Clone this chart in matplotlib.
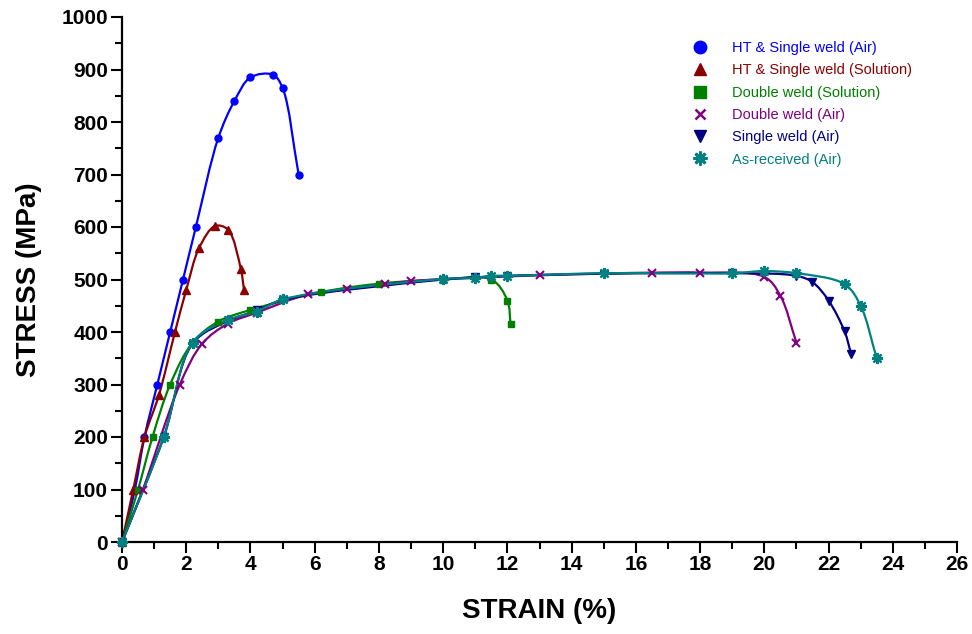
import numpy as np
import matplotlib
matplotlib.use("Agg")
import matplotlib.pyplot as plt
from matplotlib.path import Path
from matplotlib.patches import PathPatch
from matplotlib.lines import Line2D
from matplotlib.ticker import MultipleLocator

plt.rcParams['font.family'] = ['Liberation Sans', 'DejaVu Sans']

# ---------------- data ----------------
labels = ["HT & Single weld (Air)", "HT & Single weld (Solution)", "Double weld (Solution)",
          "Double weld (Air)", "Single weld (Air)", "As-received (Air)"]

ht_air_x = [0, 0.4, 0.7, 1.1, 1.5, 1.9, 2.3, 3.0, 3.5, 4.0, 4.7, 5.0, 5.5]
ht_air_y = [0, 100, 200, 300, 400, 500, 600, 770, 840, 885, 890, 865, 700]

ht_sol_x = [0, 0.35, 0.7, 1.15, 1.65, 2.0, 2.4, 2.9, 3.3, 3.7, 3.8]
ht_sol_y = [0, 100, 200, 280, 400, 480, 560, 602, 595, 520, 480]

dw_sol_x = [0, 0.5, 0.95, 1.5, 2.2, 3.0, 4.0, 6.2, 8.0, 10.0, 11.5, 12.0, 12.1]
dw_sol_y = [0, 100, 200, 300, 380, 420, 442, 476, 492, 500, 500, 460, 415]

dw_air_x = [0, 0.65, 1.8, 2.5, 3.3, 4.2, 5.8, 7.0, 8.2, 9.0, 13.0, 16.5, 18.0, 20.0, 20.5, 21.0]
dw_air_y = [0, 100, 300, 378, 416, 437, 472, 481, 491, 497, 508, 513, 513, 505, 469, 380]

sw_air_x = [0, 1.3, 2.2, 3.3, 4.2, 5.0, 10.0, 11.0, 12.0, 15.0, 19.0, 21.0, 21.5, 22.0, 22.5, 22.7]
sw_air_y = [0, 200, 378, 421, 441, 461, 500, 504, 507, 511, 512, 507, 495, 460, 401, 359]

asr_x = [0, 1.3, 2.2, 3.3, 4.2, 5.0, 10.0, 11.0, 11.5, 12.0, 15.0, 19.0, 20.0, 21.0, 22.5, 23.0, 23.5]
asr_y = [0, 200, 380, 423, 439, 462, 501, 503, 507, 507, 512, 512, 516, 512, 491, 450, 350]

x_ticks = list(range(0, 27, 2))
y_ticks = list(range(0, 1001, 100))

# ---------------- styles ----------------
colors = ['#0000FF', '#8B0000', '#008000', '#800080', '#000080', '#008080']
markers = ['o', '^', 's', 'x', 'v', (8, 2, 0)]
series = [(ht_air_x, ht_air_y), (ht_sol_x, ht_sol_y), (dw_sol_x, dw_sol_y),
          (dw_air_x, dw_air_y), (sw_air_x, sw_air_y), (asr_x, asr_y)]

XR, YR = 26.0, 1000.0
SX, SY = 835.0, 525.0


def smooth_path(xs, ys, alpha=0.5):
    """Centripetal Catmull-Rom curve through the data points, as cubic Bezier segments."""
    P = np.column_stack([np.asarray(xs, float) / XR * SX, np.asarray(ys, float) / YR * SY])
    Q = np.vstack([2 * P[0] - P[1], P, 2 * P[-1] - P[-2]])
    verts = [P[0]]
    codes = [Path.MOVETO]
    for i in range(1, len(Q) - 2):
        p0, p1, p2, p3 = Q[i - 1], Q[i], Q[i + 1], Q[i + 2]
        d0 = max(np.linalg.norm(p1 - p0) ** alpha, 1e-6)
        d1 = max(np.linalg.norm(p2 - p1) ** alpha, 1e-6)
        d2 = max(np.linalg.norm(p3 - p2) ** alpha, 1e-6)
        t1 = d1 * ((p1 - p0) / d0 - (p2 - p0) / (d0 + d1) + (p2 - p1) / d1)
        t2 = d1 * ((p2 - p1) / d1 - (p3 - p1) / (d1 + d2) + (p3 - p2) / d2)
        verts += [p1 + t1 / 3, p2 - t2 / 3, p2]
        codes += [Path.CURVE4] * 3
    V = np.array(verts)
    V[:, 0] = V[:, 0] / SX * XR
    V[:, 1] = V[:, 1] / SY * YR
    return Path(V, codes)


fig = plt.figure(figsize=(9.72, 6.34), dpi=100)
ax = fig.add_axes([122 / 972, 92 / 634, 835 / 972, 525 / 634])

msize = [5, 5.5, 5, 5.5, 5.5, 8]
mew = [1.0, 1.0, 1.0, 1.5, 1.0, 1.6]
mz = [3, 3, 3, 3, 2.9, 3.1]
for (xs, ys), c, mk, ms, mw, z in zip(series, colors, markers, msize, mew, mz):
    patch = PathPatch(smooth_path(xs, ys), facecolor='none', edgecolor=c, lw=1.6,
                      clip_on=False, zorder=2)
    ax.add_patch(patch)
    ax.plot(xs, ys, linestyle='none', marker=mk, color=c, markersize=ms,
            markeredgewidth=mw, clip_on=False, zorder=z)

ax.set_xlim(0, 26)
ax.set_ylim(0, 1000)
ax.set_xticks(x_ticks)
ax.set_yticks(y_ticks)
ax.xaxis.set_minor_locator(MultipleLocator(1))
ax.yaxis.set_minor_locator(MultipleLocator(50))

for s in ['top', 'right']:
    ax.spines[s].set_visible(False)
for s in ['left', 'bottom']:
    ax.spines[s].set_linewidth(1.6)

ax.tick_params(axis='both', which='major', direction='out', length=8, width=1.5,
               labelsize=15, pad=2)
ax.tick_params(axis='x', which='major', pad=1)
ax.tick_params(axis='both', which='minor', direction='out', length=5, width=1.5)
for lab in ax.get_xticklabels() + ax.get_yticklabels():
    lab.set_fontweight('bold')

ax.set_xlabel('STRAIN (%)', fontsize=20, fontweight='bold', labelpad=18)
ax.set_ylabel('STRESS (MPa)', fontsize=20, fontweight='bold', labelpad=14)

handles = []
leg_ms = [9, 9, 8, 7, 9, 10]
leg_mew = [1.0, 1.0, 1.0, 1.8, 1.0, 2.0]
for c, mk, ms, mw in zip(colors, markers, leg_ms, leg_mew):
    handles.append(Line2D([], [], linestyle='none', marker=mk, color=c,
                          markersize=ms, markeredgewidth=mw))
leg = ax.legend(handles, labels, loc='upper left',
                bbox_to_anchor=(693 / 972, 1 - 41 / 634), bbox_transform=fig.transFigure,
                frameon=False, fontsize=10.5, labelcolor=colors,
                handlelength=1.0, handletextpad=1.65, labelspacing=0.57, borderpad=0,
                borderaxespad=0)

fig.savefig('out.png', dpi=100)
